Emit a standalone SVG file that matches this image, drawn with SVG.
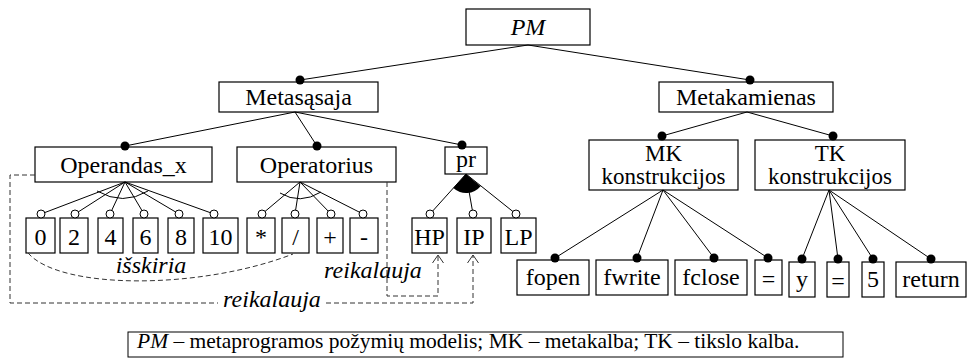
<svg xmlns="http://www.w3.org/2000/svg" width="967" height="359" viewBox="0 0 967 359">
  <style>
    .box { fill: #fff; stroke: #000; stroke-width: 1.2; }
    .lbl { font-family: "Liberation Serif", "Times New Roman", serif; font-size: 24px; text-anchor: middle; fill: #000; }
    .two { font-size: 23px; }
    .it { font-style: italic; }
    .edge { stroke: #000; stroke-width: 1; fill: none; }
    .dash { stroke: #333; stroke-width: 1; stroke-dasharray: 5 3; fill: none; }
    .arc { stroke: #000; stroke-width: 1; fill: none; }
    .legend { font-family: "Liberation Serif", "Times New Roman", serif; font-size: 21.5px; fill: #000; }
  </style>
  <defs>
    <!-- mandatory feature end -->
    <marker id="solid" markerUnits="userSpaceOnUse" viewBox="-6 -6 12 12" markerWidth="12" markerHeight="12" refX="0" refY="0">
      <circle cx="0" cy="0" r="4.5" fill="#000"/>
    </marker>
    <!-- optional feature end -->
    <marker id="hollow" markerUnits="userSpaceOnUse" viewBox="-6 -6 12 12" markerWidth="12" markerHeight="12" refX="0" refY="0">
      <circle cx="0" cy="0" r="4" fill="#fff" stroke="#000" stroke-width="1"/>
    </marker>
    <!-- open arrowhead for constraint links -->
    <marker id="vhead" markerUnits="userSpaceOnUse" viewBox="-10 -7 12 14" markerWidth="12" markerHeight="14" refX="0" refY="0" orient="auto">
      <path d="M -8 -5.5 L 0 0 L -8 5.5" fill="none" stroke="#333" stroke-width="1"/>
    </marker>
  </defs>

  <!-- nodes -->
  <g id="n-pm"><rect class="box" x="466" y="9" width="124" height="36"/><text class="lbl it" x="528" y="35">PM</text></g>
  <g id="n-metasasaja"><rect class="box" x="219" y="82" width="159" height="30"/><text class="lbl" x="298.5" y="105">Metasąsaja</text></g>
  <g id="n-metakamienas"><rect class="box" x="659" y="82" width="174" height="30"/><text class="lbl" x="746" y="105">Metakamienas</text></g>

  <g id="n-operandas"><rect class="box" x="35" y="147" width="177" height="35"/><text class="lbl" x="123.5" y="173">Operandas_x</text></g>
  <g id="n-operatorius"><rect class="box" x="237" y="147" width="159" height="35"/><text class="lbl" x="316.5" y="173">Operatorius</text></g>
  <g id="n-pr"><rect class="box" x="445" y="147" width="42" height="27"/><text class="lbl" x="466" y="167">pr</text></g>
  <g id="n-mk"><rect class="box" x="589" y="140" width="149" height="50"/><text class="lbl two" x="663.5" y="161">MK</text><text class="lbl two" x="663.5" y="184">konstrukcijos</text></g>
  <g id="n-tk"><rect class="box" x="755" y="140" width="150" height="50"/><text class="lbl two" x="830" y="161">TK</text><text class="lbl two" x="830" y="184">konstrukcijos</text></g>

  <g id="n-0"><rect class="box" x="26" y="218" width="29" height="35"/><text class="lbl" x="40.5" y="245">0</text></g>
  <g id="n-2"><rect class="box" x="60" y="218" width="28" height="35"/><text class="lbl" x="74" y="245">2</text></g>
  <g id="n-4"><rect class="box" x="98" y="218" width="25" height="35"/><text class="lbl" x="110.5" y="245">4</text></g>
  <g id="n-6"><rect class="box" x="133" y="218" width="25" height="35"/><text class="lbl" x="145.5" y="245">6</text></g>
  <g id="n-8"><rect class="box" x="168" y="218" width="26" height="35"/><text class="lbl" x="181" y="245">8</text></g>
  <g id="n-10"><rect class="box" x="203" y="218" width="35" height="35"/><text class="lbl" x="220.5" y="245">10</text></g>
  <g id="n-mul"><rect class="box" x="247" y="218" width="28" height="35"/><text class="lbl" x="261" y="245">*</text></g>
  <g id="n-div"><rect class="box" x="282" y="218" width="27" height="35"/><text class="lbl" x="295.5" y="245">/</text></g>
  <g id="n-add"><rect class="box" x="317" y="218" width="26" height="35"/><text class="lbl" x="330" y="245">+</text></g>
  <g id="n-sub"><rect class="box" x="350" y="218" width="28" height="35"/><text class="lbl" x="364" y="245">-</text></g>

  <g id="n-hp"><rect class="box" x="412" y="218" width="35" height="35"/><text class="lbl" x="429.5" y="245">HP</text></g>
  <g id="n-ip"><rect class="box" x="457" y="218" width="34" height="35"/><text class="lbl" x="474" y="245">IP</text></g>
  <g id="n-lp"><rect class="box" x="501" y="218" width="35" height="35"/><text class="lbl" x="518.5" y="245">LP</text></g>

  <g id="n-fopen"><rect class="box" x="517" y="260" width="72" height="35"/><text class="lbl" x="553" y="285">fopen</text></g>
  <g id="n-fwrite"><rect class="box" x="596" y="260" width="72" height="35"/><text class="lbl" x="632" y="285">fwrite</text></g>
  <g id="n-fclose"><rect class="box" x="675" y="260" width="72" height="35"/><text class="lbl" x="711" y="285">fclose</text></g>
  <g id="n-eq1"><rect class="box" x="755" y="260" width="27" height="35"/><text class="lbl" x="768.5" y="287">=</text></g>
  <g id="n-y"><rect class="box" x="789" y="262" width="26" height="35"/><text class="lbl" x="802" y="287">y</text></g>
  <g id="n-eq2"><rect class="box" x="827" y="262" width="22" height="35"/><text class="lbl" x="838" y="289">=</text></g>
  <g id="n-5"><rect class="box" x="862" y="262" width="22" height="35"/><text class="lbl" x="873" y="287">5</text></g>
  <g id="n-return"><rect class="box" x="896" y="262" width="70" height="35"/><text class="lbl" x="931" y="287">return</text></g>

  <!-- connectors -->
  <g id="connectors">
    <!-- mandatory links -->
    <g marker-end="url(#solid)" class="edge">
      <line x1="528" y1="45" x2="300" y2="80"/>
      <line x1="528" y1="45" x2="750" y2="80"/>
      <line x1="295" y1="112" x2="125" y2="146"/>
      <line x1="295" y1="112" x2="317" y2="146"/>
      <line x1="295" y1="112" x2="462" y2="145"/>
      <line x1="747" y1="112" x2="662" y2="136"/>
      <line x1="747" y1="112" x2="833" y2="136"/>
      <line x1="663" y1="190" x2="555" y2="258"/>
      <line x1="663" y1="190" x2="637" y2="258"/>
      <line x1="663" y1="190" x2="714" y2="258"/>
      <line x1="663" y1="190" x2="768" y2="258"/>
      <line x1="829" y1="190" x2="802" y2="259"/>
      <line x1="829" y1="190" x2="838" y2="259"/>
      <line x1="829" y1="190" x2="873" y2="259"/>
      <line x1="829" y1="190" x2="931" y2="259"/>
    </g>
    <!-- alternative / or groups -->
    <g marker-end="url(#hollow)" class="edge">
      <line x1="125" y1="182" x2="41" y2="214"/>
      <line x1="125" y1="182" x2="75" y2="214"/>
      <line x1="125" y1="182" x2="110" y2="214"/>
      <line x1="125" y1="182" x2="144" y2="214"/>
      <line x1="125" y1="182" x2="179" y2="214"/>
      <line x1="125" y1="182" x2="214" y2="214"/>
      <line x1="300" y1="182" x2="262" y2="214"/>
      <line x1="300" y1="182" x2="295" y2="214"/>
      <line x1="300" y1="182" x2="331" y2="214"/>
      <line x1="300" y1="182" x2="363" y2="214"/>
      <line x1="466" y1="174" x2="430" y2="214"/>
      <line x1="466" y1="174" x2="473" y2="214"/>
      <line x1="466" y1="174" x2="516" y2="214"/>
    </g>
    <path class="arc" d="M 97 191 Q 123 206 148 191"/>
    <path class="arc" d="M 280 193 Q 300 205 321 192"/>
    <path d="M 466 174 L 453.3 188.1 A 19 19 0 0 0 480.6 186.2 Z" fill="#000"/>

    <!-- cross-tree constraints -->
    <path class="dash" d="M 28 253 C 60 290 200 290 293 254"/>
    <path class="dash" d="M 387 182 V 296 H 438 V 255" marker-end="url(#vhead)"/>
    <path class="dash" d="M 35 175 H 10 V 303 H 218"/>
    <path class="dash" d="M 326 303 H 473 V 255" marker-end="url(#vhead)"/>
    <text class="lbl it" x="151" y="273">išskiria</text>
    <text class="lbl it" x="373" y="278">reikalauja</text>
    <text class="lbl it" x="272" y="307">reikalauja</text>
  </g>

  <!-- legend -->
  <g id="legend">
    <rect x="128" y="332" width="715" height="25" fill="#fff" stroke="#000" stroke-width="1"/>
    <text class="legend" x="137" y="348"><tspan font-style="italic">PM</tspan> – metaprogramos požymių modelis; MK – metakalba; TK – tikslo kalba.</text>
  </g>
</svg>
